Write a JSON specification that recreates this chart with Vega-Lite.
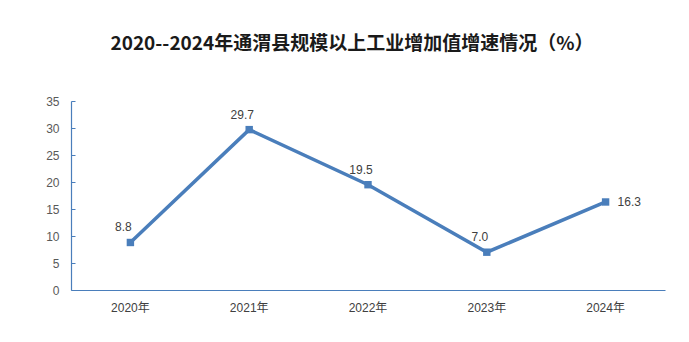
{
  "$schema": "https://vega.github.io/schema/vega-lite/v6.json",
  "width": 594,
  "height": 189,
  "autosize": {"type": "none"},
  "padding": {"left": 71, "top": 101, "right": 24, "bottom": 52},
  "background": "white",
  "title": {
    "text": "2020--2024年通渭县规模以上工业增加值增速情况（%）",
    "font": "Noto Sans CJK SC",
    "fontSize": 19,
    "fontWeight": "bold",
    "color": "#1a1a1a",
    "anchor": "middle",
    "dx": -16,
    "offset": 41
  },
  "config": {"view": {"stroke": null}},
  "data": {
    "values": [
      {"year": "2020年", "value": 8.8},
      {"year": "2021年", "value": 29.7},
      {"year": "2022年", "value": 19.5},
      {"year": "2023年", "value": 7.0},
      {"year": "2024年", "value": 16.3}
    ]
  },
  "encoding": {
    "x": {
      "field": "year",
      "type": "ordinal",
      "scale": {"type": "band", "paddingInner": 0, "paddingOuter": 0},
      "axis": {
        "title": null,
        "labelAngle": 0,
        "ticks": false,
        "domainColor": "#4a7ebb",
        "domainWidth": 1.2,
        "labelFont": "Liberation Sans, Noto Sans CJK SC",
        "labelFontSize": 12,
        "labelColor": "#404040",
        "labelPadding": 12
      }
    },
    "y": {
      "field": "value",
      "type": "quantitative",
      "scale": {"domain": [0, 35], "nice": false},
      "axis": {
        "title": null,
        "values": [0, 5, 10, 15, 20, 25, 30, 35],
        "grid": false,
        "domainColor": "#4a7ebb",
        "domainWidth": 1.2,
        "tickColor": "#4a7ebb",
        "tickSize": -4,
        "labelFont": "Liberation Sans",
        "labelFontSize": 12,
        "labelColor": "#595959",
        "labelPadding": 16
      }
    }
  },
  "layer": [
    {
      "mark": {"type": "line", "color": "#4a7ebb", "strokeWidth": 3.5},
      "encoding": {}
    },
    {
      "mark": {"type": "point", "shape": "square", "filled": true, "color": "#4a7ebb", "size": 55, "opacity": 1},
      "encoding": {}
    },
    {
      "transform": [{"filter": "datum.year != '2024年'"}],
      "mark": {"type": "text", "font": "Liberation Sans", "fontSize": 12, "color": "#404040", "dx": -7, "dy": -15, "baseline": "middle"},
      "encoding": {"text": {"field": "value", "type": "quantitative", "format": ".1f"}}
    },
    {
      "transform": [{"filter": "datum.year == '2024年'"}],
      "mark": {"type": "text", "font": "Liberation Sans", "fontSize": 12, "color": "#404040", "dx": 12, "align": "left", "baseline": "middle"},
      "encoding": {"text": {"field": "value", "type": "quantitative", "format": ".1f"}}
    }
  ]
}
